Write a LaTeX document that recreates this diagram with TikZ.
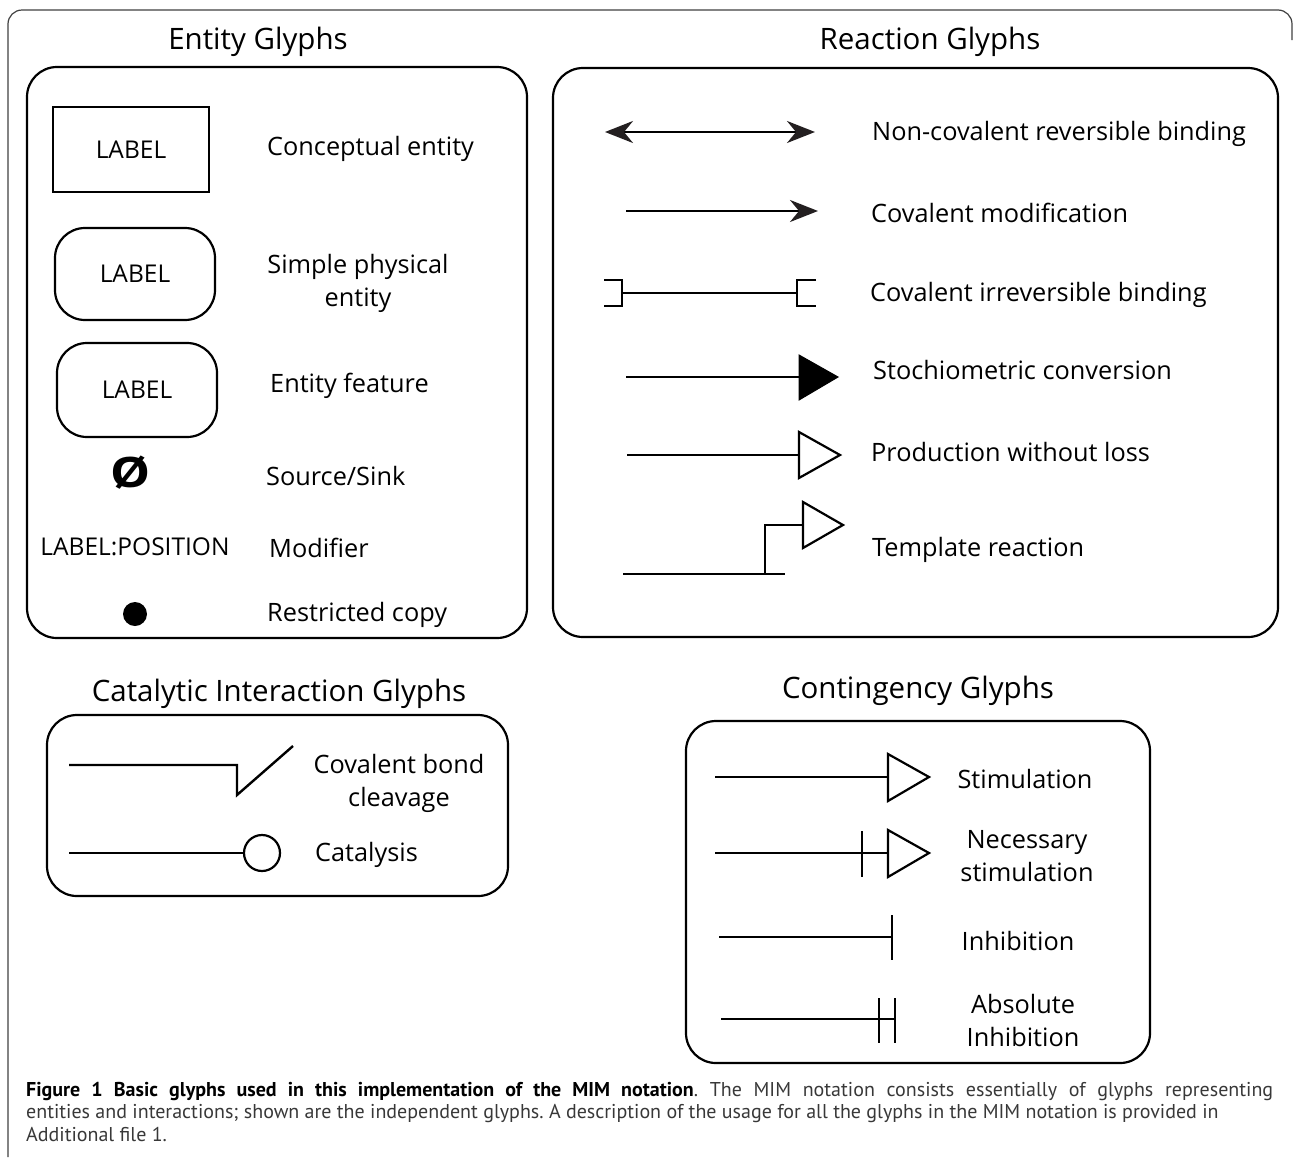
\documentclass[tikz,border=0pt]{standalone}
\usepackage{fontspec}
\setmainfont{Open Sans}
\newfontfamily\capfont{PT Sans}
\usetikzlibrary{arrows.meta}
\definecolor{capgray}{HTML}{383838}
\definecolor{tipcol}{HTML}{231F20}
\begin{document}
\begin{tikzpicture}[x=1pt,y=-1pt,
  frame/.style={draw=black!75, line width=1.2pt, rounded corners=14pt},
  panel/.style={draw, line width=2.2pt, rounded corners=30pt, inner sep=0pt},
  glyph/.style={line width=2.4pt},
  ttl/.style={font=\fontsize{29.5}{32}\selectfont, inner sep=0pt},
  lab/.style={font=\fontsize{25.3}{33}\selectfont, inner sep=0pt},
  boxlab/.style={font=\fontsize{24.5}{30}\selectfont},
  llab/.style={lab, anchor=west},
  bigtip/.style={-{Stealth[length=28pt,width=22pt,inset=9pt,color=tipcol]}},
  bothtip/.style={{Stealth[length=28pt,width=22pt,inset=9pt,color=tipcol]}-{Stealth[length=28pt,width=22pt,inset=9pt,color=tipcol]}},
  opentri/.style={draw, line width=2.2pt, fill=white},
  filltri/.style={draw, line width=1pt, fill=black}
]
\useasboundingbox (0,0) rectangle (1293,1157);

% outer frame
\coordinate (fbl) at (8,1157);
\coordinate (ftl) at (8,10);
\coordinate (ftr) at (1292,10);
\coordinate (frr) at (1292,40);
\draw[frame] (fbl) -- (ftl) -- (ftr) -- (frr);

% ---------- titles ----------
\node[ttl] (tent) at (258,42) {Entity Glyphs};
\node[ttl] (treac) at (930,42) {Reaction Glyphs};
\node[ttl] (tcat) at (279,694) {Catalytic Interaction Glyphs};
\node[ttl] (tcont) at (918,691) {Contingency Glyphs};

% ---------- panels ----------
\node[panel, minimum width=500pt, minimum height=571pt] (pent) at (277,352.5) {};
\node[panel, minimum width=725pt, minimum height=569pt] (preac) at (915.5,352.5) {};
\node[panel, minimum width=461pt, minimum height=181pt] (pcat) at (277.5,805.5) {};
\node[panel, minimum width=464pt, minimum height=342pt] (pcont) at (918,892) {};

% ---------- entity glyphs ----------
\node[draw, line width=2.2pt, minimum width=156pt, minimum height=85pt, boxlab] (ce) at (131,149.5) {LABEL};
\node[draw, line width=2.2pt, rounded corners=30pt, minimum width=160pt, minimum height=92pt, boxlab] (spe) at (135,274) {LABEL};
\node[draw, line width=2.2pt, rounded corners=30pt, minimum width=160pt, minimum height=94pt, boxlab] (ef) at (137,390) {LABEL};
\node[font=\bfseries\fontsize{42}{42}\selectfont, inner sep=0pt] (ss) at (131,473) {\scalebox{1.2}[1]{Ø}};
\node[boxlab, inner sep=0pt] (mod) at (135,547) {LABEL:POSITION};
\node[circle, fill, minimum size=24pt, inner sep=0pt] (rc) at (135,614) {};

\node[llab] (lce) at (267,149) {Conceptual entity};
\node[lab, align=center] (lspe) at (358,283) {Simple physical\\entity};
\node[llab] (lef) at (270,386) {Entity feature};
\node[llab] (lss) at (266,476) {Source/Sink};
\node[llab] (lmod) at (269,548) {Modifier};
\node[llab] (lrc) at (267,615) {Restricted copy};

% ---------- reaction glyphs ----------
% row 1
\coordinate (r1a) at (605,132);
\coordinate (r1b) at (815,132);
\draw[glyph, bothtip] (r1a) -- (r1b);
\node[llab] (l1) at (872,134) {Non-covalent reversible binding};
% row 2
\coordinate (r2a) at (626,211);
\coordinate (r2b) at (818,211);
\draw[glyph, bigtip] (r2a) -- (r2b);
\node[llab] (l2) at (871,213) {Covalent modification};
% row 3
\coordinate (r3a) at (622,293);
\coordinate (r3b) at (797,293);
\draw[glyph] (r3a) -- (r3b);
\draw[glyph] (604,280) -- (622,280) -- (622,306) -- (604,306);
\draw[glyph] (816,280) -- (797,280) -- (797,306) -- (816,306);
\node[llab] (l3) at (870,295) {Covalent irreversible binding};
% row 4
\coordinate (r4a) at (626,377);
\coordinate (r4b) at (799,377);
\draw[glyph] (r4a) -- (r4b);
\draw[filltri] (799,355) -- (838,377) -- (799,400) -- cycle;
\node[llab] (l4) at (873,370) {Stochiometric conversion};
% row 5
\coordinate (r5a) at (627,455);
\coordinate (r5b) at (799,455);
\draw[glyph] (r5a) -- (r5b);
\draw[opentri] (799,432) -- (840,455) -- (799,478) -- cycle;
\node[llab] (l5) at (871,452) {Production without loss};
% row 6
\coordinate (r6a) at (623,574);
\coordinate (r6b) at (785,574);
\coordinate (r6c) at (765,574);
\coordinate (r6d) at (765,525);
\coordinate (r6e) at (803,525);
\draw[glyph] (r6a) -- (r6b);
\draw[glyph] (r6c) -- (r6d) -- (r6e);
\draw[opentri] (803,502) -- (843,525) -- (803,548) -- cycle;
\node[llab] (l6) at (872,550) {Template reaction};

% ---------- catalytic glyphs ----------
\coordinate (c1a) at (69,765);
\coordinate (c1b) at (237,765);
\coordinate (c1c) at (237,795);
\coordinate (c1d) at (293,746);
\draw[glyph] (c1a) -- (c1b) -- (c1c) -- (c1d);
\node[lab, align=center] (lc1) at (399,783) {Covalent bond\\cleavage};
\node[circle, draw, line width=2.2pt, minimum size=36pt, inner sep=0pt] (cat) at (262,853) {};
\coordinate (c2a) at (69,853);
\draw[glyph] (c2a) -- (cat.west);
\node[llab] (lc2) at (315,855) {Catalysis};

% ---------- contingency glyphs ----------
\coordinate (k1a) at (715,777);
\coordinate (k1b) at (888,777);
\draw[glyph] (k1a) -- (k1b);
\draw[opentri] (888,754) -- (929,777) -- (888,801) -- cycle;
\node[lab] (lk1) at (1025,779) {Stimulation};

\coordinate (k2a) at (715,853);
\coordinate (k2b) at (888,853);
\draw[glyph] (k2a) -- (k2b);
\draw[glyph] (862,831) -- (862,877);
\draw[opentri] (888,830) -- (929,853) -- (888,877) -- cycle;
\node[lab, align=center] (lk2) at (1027,856) {Necessary\\stimulation};

\coordinate (k3a) at (719,937);
\coordinate (k3b) at (892,937);
\draw[glyph] (k3a) -- (k3b);
\draw[glyph] (892,915) -- (892,960);
\node[lab] (lk3) at (1018,941) {Inhibition};

\coordinate (k4a) at (721,1019);
\coordinate (k4b) at (895,1019);
\draw[glyph] (k4a) -- (k4b);
\draw[glyph] (879,998) -- (879,1043);
\draw[glyph] (895,998) -- (895,1043);
\node[lab, align=center] (lk4) at (1023,1020.5) {Absolute\\Inhibition};

% ---------- caption ----------
\node[anchor=north west, inner sep=0pt, text width=1247pt, align=justify,
      font=\capfont\fontsize{20}{22.5}\selectfont\frenchspacing, text=capgray] (cap) at (26,1082)
  {{\color{black}\bfseries Figure 1 Basic glyphs used in this implementation of the MIM notation}. The MIM notation consists essentially of glyphs representing\linebreak
   \mbox{entities and interactions; shown are the independent glyphs. A description of the usage for all the glyphs in the MIM notation is provided in}\newline
   Additional file 1.};
\end{tikzpicture}
\end{document}
